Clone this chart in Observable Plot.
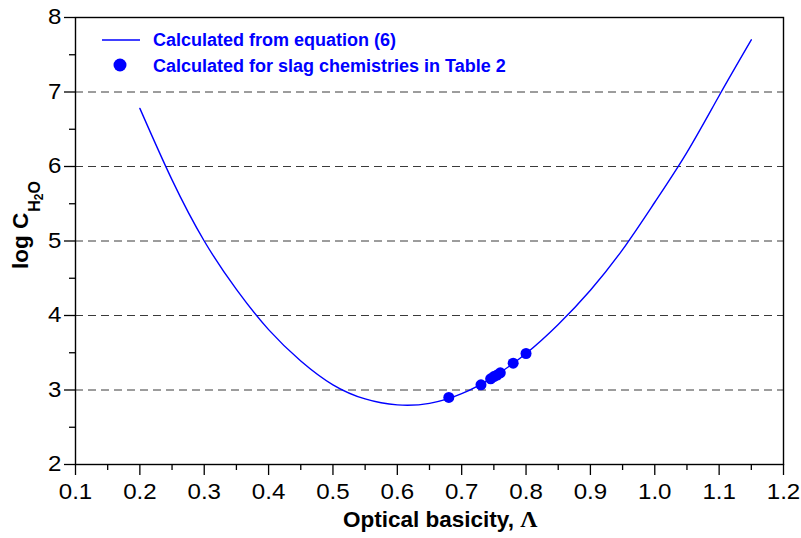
<!DOCTYPE html>
<html>
<head>
<meta charset="utf-8">
<script src="https://cdn.jsdelivr.net/npm/d3@7"></script>
<script src="https://cdn.jsdelivr.net/npm/@observablehq/plot@0.6"></script>
<style>
  html, body { margin: 0; padding: 0; background: #fff; }
  #chart svg { display: block; }
</style>
</head>
<body>
<div id="chart"></div>
<script>
// Curve: calculated from equation (6)
const curveLambda = [0.20, 0.25, 0.30, 0.35, 0.40, 0.45, 0.50, 0.55, 0.60, 0.65, 0.70, 0.75, 0.80, 0.85, 0.90, 0.95, 1.00, 1.05, 1.10, 1.15];
const curveLogC   = [6.78, 5.82, 5.00, 4.35, 3.81, 3.39, 3.07, 2.88, 2.80, 2.82, 2.95, 3.18, 3.49, 3.88, 4.34, 4.885, 5.52, 6.19, 6.95, 7.70];

// Points: slag chemistries in Table 2
const slagLambda = [0.68, 0.73, 0.745, 0.75, 0.755, 0.76, 0.78, 0.80];
const slagLogC   = [2.90, 3.07, 3.15, 3.18, 3.20, 3.23, 3.36, 3.49];

// Ticks
const xTicks = [0.1, 0.2, 0.3, 0.4, 0.5, 0.6, 0.7, 0.8, 0.9, 1.0, 1.1, 1.2];
const xMinorTicks = [0.15, 0.25, 0.35, 0.45, 0.55, 0.65, 0.75, 0.85, 0.95, 1.05, 1.15];
const yTicks = [2, 3, 4, 5, 6, 7, 8];
const yMinorTicks = [2.5, 3.5, 4.5, 5.5, 6.5, 7.5];
const gridLines = [3, 4, 5, 6, 7];

const legendLabels = ["Calculated from equation (6)", "Calculated for slag chemistries in Table 2"];
const xTitle = "Optical basicity, ";
const xTitleSymbol = "Λ";

const curve = curveLambda.map((x, i) => ({x, y: curveLogC[i]}));
const slag = slagLambda.map((x, i) => ({x, y: slagLogC[i]}));

const BLUE = "#0000ff";
const FONT = "'Liberation Sans', Arial, sans-serif";

const chart = Plot.plot({
  width: 801,
  height: 538,
  marginLeft: 75,
  marginRight: 18,
  marginTop: 17,
  marginBottom: 74,
  style: {fontFamily: FONT, fontSize: "21.5px", color: "#000", background: "#fff"},
  x: {domain: [0.1, 1.2]},
  y: {domain: [2, 8]},
  marks: [
    Plot.ruleY(gridLines, {stroke: "#3a3a3a", strokeWidth: 1, strokeDasharray: "8,5"}),
    Plot.line(curve, {x: "x", y: "y", stroke: BLUE, strokeWidth: 1.4, curve: "natural"}),
    Plot.dot(slag, {x: "x", y: "y", r: 5.5, fill: BLUE, stroke: "none"}),
    Plot.axisX({ticks: xMinorTicks, tickSize: 6, tickFormat: () => "", strokeWidth: 1.3, label: null}),
    Plot.axisX({ticks: xTicks, tickSize: 11, tickPadding: 8, tickFormat: d => d.toFixed(1), strokeWidth: 1.3, label: null}),
    Plot.axisY({ticks: yMinorTicks, tickSize: 6, tickFormat: () => "", strokeWidth: 1.3, label: null}),
    Plot.axisY({ticks: yTicks, tickSize: 11, tickPadding: 3, tickFormat: d => String(d), strokeWidth: 1.3, label: null}),
    Plot.frame({stroke: "#000", strokeWidth: 1.4})
  ]
});

document.getElementById("chart").appendChild(chart);

const svg = d3.select(chart);

// Tick labels in the reference are slightly wider than the font: stretch horizontally
svg.selectAll('g[aria-label="x-axis tick label"] text, g[aria-label="y-axis tick label"] text')
  .each(function () {
    const w = this.getComputedTextLength();
    if (w > 0) {
      this.setAttribute("textLength", (w * 1.12).toFixed(2));
      this.setAttribute("lengthAdjust", "spacingAndGlyphs");
    }
  });

// Y axis title: log C_{H2O}
const yl = svg.append("text")
  .attr("transform", "translate(28,269) rotate(-90)")
  .attr("text-anchor", "start")
  .attr("font-family", FONT)
  .attr("font-weight", "bold")
  .attr("font-size", 22.5)
  .attr("fill", "#000");
yl.append("tspan").text("log C");
yl.append("tspan").attr("font-size", 16).attr("dx", 1).attr("dy", 12).text("H");
yl.append("tspan").attr("font-size", 12).attr("dy", 3).text("2");
yl.append("tspan").attr("font-size", 16).attr("dy", -3).text("O");

// X axis title
const xl = svg.append("text")
  .attr("x", 343).attr("y", 527)
  .attr("text-anchor", "start")
  .attr("font-family", FONT)
  .attr("font-weight", "bold")
  .attr("font-size", 22.5)
  .attr("fill", "#000");
xl.append("tspan").text(xTitle);
xl.append("tspan").attr("font-family", "'Liberation Serif', 'Times New Roman', serif").attr("font-size", 24).text(xTitleSymbol);

// Legend
const lg = svg.append("g")
  .attr("text-anchor", "start")
  .attr("font-family", FONT)
  .attr("font-weight", "bold")
  .attr("font-size", 18)
  .attr("fill", BLUE);
lg.append("line").attr("x1", 102).attr("x2", 140).attr("y1", 40).attr("y2", 40)
  .attr("stroke", BLUE).attr("stroke-width", 1.4);
lg.append("text").attr("x", 153).attr("y", 46).text(legendLabels[0]);
lg.append("circle").attr("cx", 120).attr("cy", 65).attr("r", 6.5).attr("fill", BLUE);
lg.append("text").attr("x", 153).attr("y", 71.5).text(legendLabels[1]);
</script>
</body>
</html>
